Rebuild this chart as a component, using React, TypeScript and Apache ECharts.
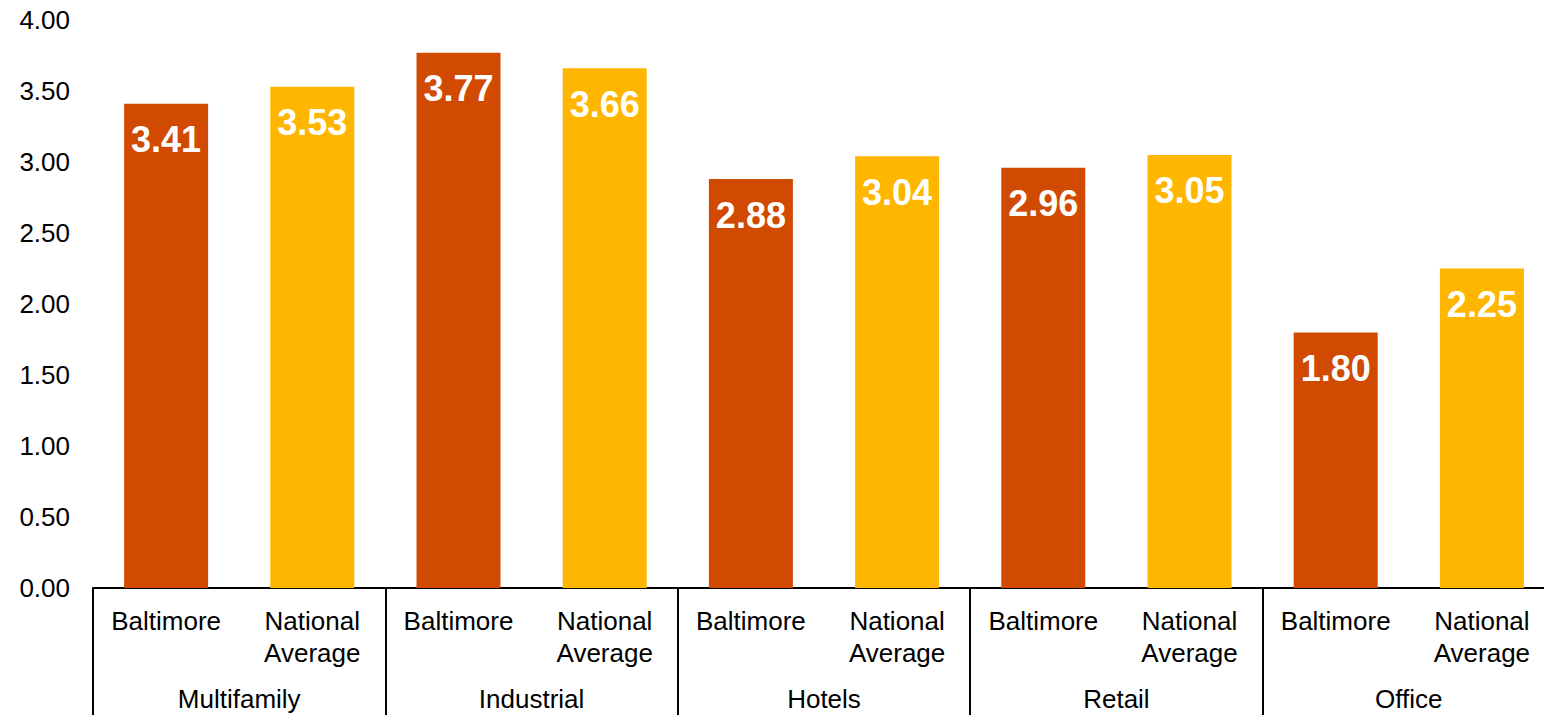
import React, { useEffect, useRef } from "react";
import * as echarts from "echarts";

const groups = ["Multifamily", "Industrial", "Hotels", "Retail", "Office"];
const subCategories = ["Baltimore", "National\nAverage"];
const baltimore = [3.41, 3.77, 2.88, 2.96, 1.8];
const nationalAverage = [3.53, 3.66, 3.04, 3.05, 2.25];
const colors = ["#D04A02", "#FFB600"];
const yTicks = [0, 0.5, 1, 1.5, 2, 2.5, 3, 3.5, 4];

export default function App() {
  const ref = useRef<HTMLDivElement>(null);
  useEffect(() => {
    if (!ref.current) return;
    const chart = echarts.init(ref.current, undefined, { renderer: "svg" });
    const cats: string[] = [];
    const data: any[] = [];
    groups.forEach((g, i) => {
      [baltimore[i], nationalAverage[i]].forEach((v, j) => {
        cats.push(subCategories[j]);
        data.push({ value: v, itemStyle: { color: colors[j] } });
      });
    });
    const font = "'Liberation Sans', Arial, sans-serif";
    chart.setOption({
      animation: false,
      grid: { left: 93, top: 20, width: 1462, height: 571 },
      xAxis: [
        {
          type: "category",
          data: cats,
          position: "bottom",
          axisLine: { show: true, lineStyle: { color: "#000", width: 2 } },
          axisTick: {
            show: true,
            interval: (index: number) => index % 2 === 0,
            length: 130,
            lineStyle: { color: "#000", width: 2 },
          },
          axisLabel: {
            interval: 0,
            margin: 17,
            fontFamily: font,
            fontSize: 26,
            lineHeight: 32,
            color: "#000",
          },
        },
        {
          type: "category",
          data: groups,
          position: "bottom",
          axisLine: { show: false },
          axisTick: { show: false },
          axisLabel: {
            interval: 0,
            margin: 95,
            fontFamily: font,
            fontSize: 26,
            lineHeight: 32,
            color: "#000",
          },
        },
      ],
      yAxis: {
        type: "value",
        min: 0,
        max: yTicks[yTicks.length - 1],
        interval: 0.5,
        splitLine: { show: false },
        axisLine: { show: false },
        axisTick: { show: false },
        axisLabel: {
          margin: 23,
          fontFamily: font,
          fontSize: 26,
          color: "#000",
          formatter: (v: number) => v.toFixed(2),
        },
      },
      series: [
        {
          type: "bar",
          xAxisIndex: 0,
          data,
          barWidth: 84,
          label: {
            show: true,
            position: "insideTop",
            distance: 18,
            fontFamily: font,
            fontSize: 36,
            fontWeight: "bold",
            lineHeight: 36,
            color: "#fff",
            formatter: (p: any) => p.value.toFixed(2),
          },
        },
      ],
    });
    return () => chart.dispose();
  }, []);
  return (
    <div style={{ position: "fixed", left: 0, top: 0, width: 1544, height: 715, overflow: "hidden", background: "#fff" }}>
      <div ref={ref} style={{ width: 1580, height: 715 }} />
    </div>
  );
}
